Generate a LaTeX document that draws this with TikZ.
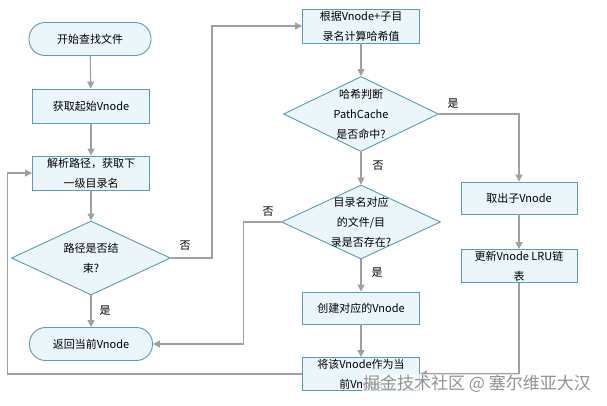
\documentclass[tikz,border=0pt]{standalone}
\usepackage{fontspec}
\newfontfamily\cjk{Noto Sans CJK SC}
\usetikzlibrary{shapes.geometric,arrows.meta}
\definecolor{boxfill}{HTML}{EAF6FA}
\definecolor{boxline}{HTML}{5B9BB5}
\definecolor{lineg}{HTML}{A0A0A0}
\newcommand{\flowtext}[1]{\smash{\raisebox{-0.25em}{\begin{tabular}[c]{@{}c@{}}#1\end{tabular}}}}
\begin{document}
\begin{tikzpicture}[x=1pt,y=-1pt,
  box/.style={draw=boxline,fill=boxfill,line width=0.9pt,minimum width=117pt,minimum height=34pt,inner sep=0pt,font=\cjk\fontsize{11}{20}\selectfont},
  term/.style={box,rounded corners=16pt,minimum width=122pt,minimum height=33pt},
  decide/.style={box,diamond,minimum width=159pt,minimum height=74pt},
  flow/.style={draw=lineg,line width=1.1pt,-{Triangle[length=7pt,width=7pt]}},
  lab/.style={font=\cjk\fontsize{11}{13}\selectfont,inner sep=0pt}]
  \fill[white] (0,0) rectangle (607,405);
  \useasboundingbox (0,0) rectangle (607,405);
  % left column
  \node[term] (start) at (90,39) {\flowtext{开始查找文件}};
  \node[box] (getroot) at (91,106) {\flowtext{获取起始Vnode}};
  \node[box] (parse) at (91,173) {\flowtext{解析路径，获取下\\一级目录名}};
  \node[decide] (endq) at (91,258) {\flowtext{路径是否结\\束?}};
  \node[term,minimum width=123pt] (ret) at (91,344) {\flowtext{返回当前Vnode}};
  % middle column
  \node[box] (hash) at (361,26) {\flowtext{根据Vnode+子目\\录名计算哈希值}};
  \node[decide,minimum width=155pt,minimum height=75pt] (hit) at (361,114) {\flowtext{哈希判断\\PathCache\\是否命中?}};
  \node[decide] (exist) at (361,222) {\flowtext{目录名对应\\的文件/目\\录是否存在?}};
  \node[box,minimum height=32pt] (create) at (361,308) {\flowtext{创建对应的Vnode}};
  \node[box,minimum height=33pt] (setcur) at (361,374) {\flowtext{将该Vnode作为当\\前Vnode}};
  % right column
  \node[box,minimum width=116pt,minimum height=32pt] (take) at (519,198) {\flowtext{取出子Vnode}};
  \node[box,minimum width=116pt,minimum height=33pt] (lru) at (519,266) {\flowtext{更新Vnode LRU链\\表}};
  % connectors
  \draw[flow] (start) -- (getroot);
  \draw[flow] (getroot) -- (parse);
  \draw[flow] (parse) -- (endq);
  \draw[flow] (endq) -- (ret);
  \draw[flow] (endq.east) -- ++(41,0) |- (hash.west);
  \draw[flow] (hash) -- (hit);
  \draw[flow] (hit.east) -| (take.north);
  \draw[flow] (take) -- (lru);
  \draw[flow] (lru.south) |- (setcur.east);
  \draw[flow] (hit) -- (exist);
  \draw[flow] (exist.west) -- ++(-38,0) |- (ret.east);
  \draw[flow] (exist) -- (create);
  \draw[flow] (create) -- (setcur);
  \draw[flow] (setcur.west) -- ++(-295,0) |- (parse.west);
  % labels
  \node[lab] (no1) at (185,246) {否};
  \node[lab] (yes1) at (105,311) {是};
  \node[lab] (yes2) at (453,104) {是};
  \node[lab] (no2) at (378,166) {否};
  \node[lab] (no3) at (268,212) {否};
  \node[lab] (yes3) at (377,273) {是};
  % watermark
  \node[font=\cjk\fontsize{17}{20}\selectfont,text=gray!85,fill=white,fill opacity=0.7,text opacity=1,inner sep=1pt] (mark) at (477,384) {掘金技术社区 @ 塞尔维亚大汉};
\end{tikzpicture}
\end{document}
